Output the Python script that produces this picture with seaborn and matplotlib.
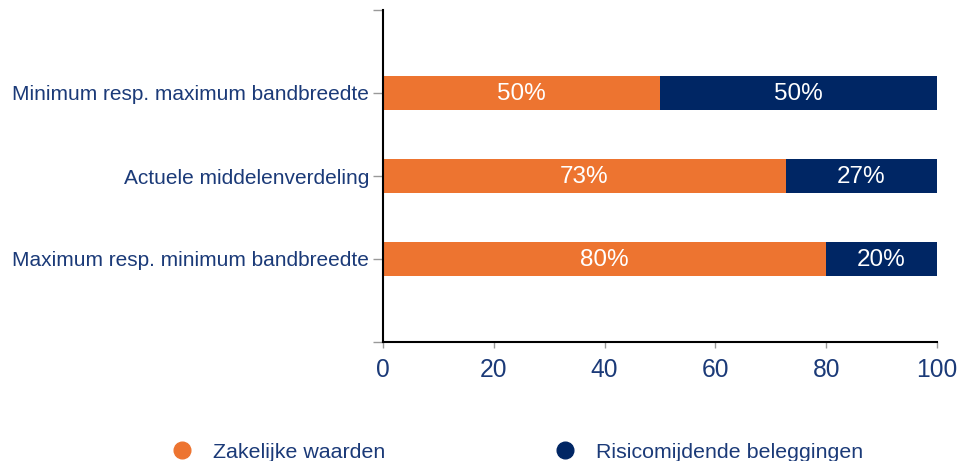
import matplotlib
matplotlib.use("Agg")
import matplotlib.pyplot as plt
from matplotlib.lines import Line2D
import seaborn as sns
import pandas as pd

categories = ["Minimum resp. maximum bandbreedte",
              "Actuele middelenverdeling",
              "Maximum resp. minimum bandbreedte"]
zakelijk = [50, 72.7, 80]
risicomijdend = [50, 27.3, 20]
series_names = ["Zakelijke waarden", "Risicomijdende beleggingen"]
x_ticks = [0, 20, 40, 60, 80, 100]

orange = "#ED7430"
navy = "#002664"
text_col = "#1B3A78"

sns.set_theme(style="white")
plt.rcParams['font.family'] = ['Liberation Sans', 'DejaVu Sans']

df = pd.DataFrame({"cat": categories, "z": zakelijk, "r": risicomijdend})
df["total"] = df["z"] + df["r"]

fig = plt.figure(figsize=(9.61, 4.61), dpi=100)
ax = fig.add_axes([383/961, 1-342/461, (937-383)/961, (342-10)/461])

sns.barplot(data=df, y="cat", x="total", color=navy, orient="h", width=0.4,
            ax=ax, saturation=1, edgecolor="none")
sns.barplot(data=df, y="cat", x="z", color=orange, orient="h", width=0.4,
            ax=ax, saturation=1, edgecolor="none")

for i, (z, r) in enumerate(zip(zakelijk, risicomijdend)):
    ax.text(z / 2, i + 0.01, f"{round(z)}%", ha="center", va="center",
            color="white", fontsize=17.5)
    ax.text(z + r / 2, i + 0.01, f"{round(r)}%", ha="center", va="center",
            color="white", fontsize=17.5)

ax.set_xlim(0, 100)
ax.set_ylim(3, -1)
ax.set_yticks([-1, 0, 1, 2, 3])
ax.set_yticklabels([""] + categories + [""])
ax.set_xticks(x_ticks)
ax.set_xticklabels([str(t) for t in x_ticks])
ax.set_xlabel("")
ax.set_ylabel("")

for s in ["top", "right"]:
    ax.spines[s].set_visible(False)
for s in ["left", "bottom"]:
    ax.spines[s].set_color("black")
    ax.spines[s].set_linewidth(1.5)

ax.tick_params(axis="y", direction="out", length=7, width=1, color="#999999",
               labelsize=15, labelcolor=text_col, pad=3, left=True)
ax.tick_params(axis="x", direction="out", length=4.5, width=1, color="#999999",
               labelsize=17.7, labelcolor=text_col, pad=7, bottom=True)

handles = [Line2D([], [], marker="o", linestyle="none", markersize=12,
                  markerfacecolor=c, markeredgecolor=c) for c in (orange, navy)]
fig.legend(handles, series_names, loc="center", bbox_to_anchor=(0.533, 1-452/461),
           ncol=2, frameon=False, fontsize=15.4, labelcolor=text_col,
           columnspacing=7.4, handletextpad=0.45, borderpad=0)

fig.savefig("out.png", dpi=100)
